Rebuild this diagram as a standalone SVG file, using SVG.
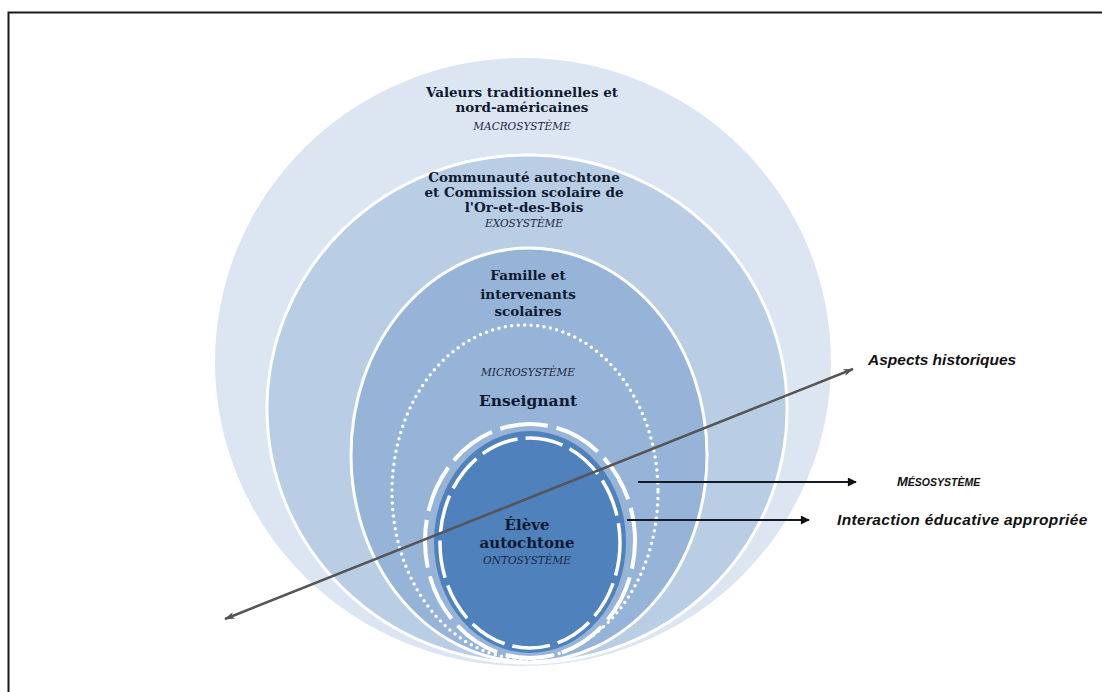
<svg xmlns="http://www.w3.org/2000/svg" width="1102" height="692" viewBox="0 0 1102 692">
  <defs>
    <marker id="headSolid" viewBox="0 0 10 10" refX="9" refY="5" markerWidth="11" markerHeight="9" markerUnits="userSpaceOnUse" orient="auto">
      <path d="M0,0 L10,5 L0,10 Z" fill="#111"/>
    </marker>
    <marker id="headThin" viewBox="0 0 12 8" refX="11" refY="4" markerWidth="13" markerHeight="7" markerUnits="userSpaceOnUse" orient="auto-start-reverse">
      <path d="M0,0 L12,4 L0,8 L3,4 Z" fill="#555"/>
    </marker>
  </defs>
  <style>
    .title { font-family: "DejaVu Serif", "Liberation Serif", serif; font-weight: bold; fill: #0e1930; text-anchor: middle; }
    .sys { font-family: "DejaVu Serif", "Liberation Serif", serif; font-style: italic; font-size: 10.5px; fill: #1c2742; text-anchor: middle; }
    .side { font-family: "Liberation Sans", Arial, sans-serif; font-weight: bold; font-style: italic; fill: #111; }
    .sep { stroke: #ffffff; stroke-width: 3; }
    .conn { stroke: #141a26; stroke-width: 2; fill: none; }
  </style>

  <rect x="0" y="0" width="1102" height="692" fill="#ffffff"/>
  <!-- page frame -->
  <path d="M8.5,692 V12.5 H1102" fill="none" stroke="#1a1a1a" stroke-width="2"/>

  <!-- macrosystem -->
  <g id="macrosysteme">
    <ellipse cx="523" cy="362" rx="308" ry="304" fill="#dce6f2"/>
    <text class="title" font-size="13.5" x="522" y="97">Valeurs traditionnelles et</text>
    <text class="title" font-size="13.5" x="522" y="112">nord-américaines</text>
    <text class="sys" x="522" y="130">MACROSYSTÈME</text>
  </g>

  <!-- exosystem -->
  <g id="exosysteme">
    <ellipse class="sep" cx="527" cy="409" rx="260" ry="254" fill="#b9cde5"/>
    <text class="title" font-size="13.5" x="524" y="182">Communauté autochtone</text>
    <text class="title" font-size="13.5" x="524" y="197">et Commission scolaire de</text>
    <text class="title" font-size="13.5" x="524" y="212">l'Or-et-des-Bois</text>
    <text class="sys" x="524" y="227">EXOSYSTÈME</text>
  </g>

  <!-- family and school staff -->
  <g id="famille">
    <ellipse class="sep" cx="529" cy="455" rx="178" ry="207" fill="#96b3d8"/>
    <text class="title" font-size="13.5" x="528" y="280">Famille et</text>
    <text class="title" font-size="13.5" x="528" y="299">intervenants</text>
    <text class="title" font-size="13.5" x="528" y="316">scolaires</text>
  </g>

  <!-- microsystem -->
  <g id="microsysteme">
    <ellipse cx="525" cy="492" rx="133" ry="167" fill="none" stroke="#ffffff" stroke-width="3.5" stroke-linecap="round" stroke-dasharray="0 6.5"/>
    <text class="sys" x="528" y="376">MICROSYSTÈME</text>
    <text class="title" font-size="15.5" x="528" y="406">Enseignant</text>
  </g>

  <!-- ontosystem -->
  <g id="ontosysteme">
    <ellipse cx="530" cy="542" rx="96" ry="111" fill="#4f81bd"/>
    <ellipse cx="530" cy="541" rx="105" ry="117" fill="none" stroke="#ffffff" stroke-width="4" stroke-dasharray="48 9" stroke-dashoffset="20"/>
    <ellipse cx="530" cy="543" rx="90" ry="105" fill="none" stroke="#ffffff" stroke-width="3.5" stroke-dasharray="38 8" stroke-dashoffset="5"/>
    <text class="title" font-size="15" x="527" y="530">Élève</text>
    <text class="title" font-size="15" x="527" y="548">autochtone</text>
    <text class="sys" x="527" y="564">ONTOSYSTÈME</text>
  </g>

  <!-- connectors -->
  <g id="connecteurs">
    <line x1="225" y1="619" x2="853" y2="369" stroke="#555" stroke-width="2.5" marker-start="url(#headThin)" marker-end="url(#headThin)"/>
    <line class="conn" x1="638" y1="482" x2="856" y2="482" marker-end="url(#headSolid)"/>
    <line class="conn" x1="627" y1="520" x2="809" y2="520" marker-end="url(#headSolid)"/>
  </g>

  <!-- side labels -->
  <g id="labels">
    <text class="side" font-size="15.5" x="868" y="365">Aspects historiques</text>
    <text class="side" x="897" y="486"><tspan font-size="13">M</tspan><tspan font-size="10.5">ÉSOSYSTÈME</tspan></text>
    <text class="side" font-size="15.5" x="837" y="525" letter-spacing="0.35">Interaction éducative appropriée</text>
  </g>
</svg>
